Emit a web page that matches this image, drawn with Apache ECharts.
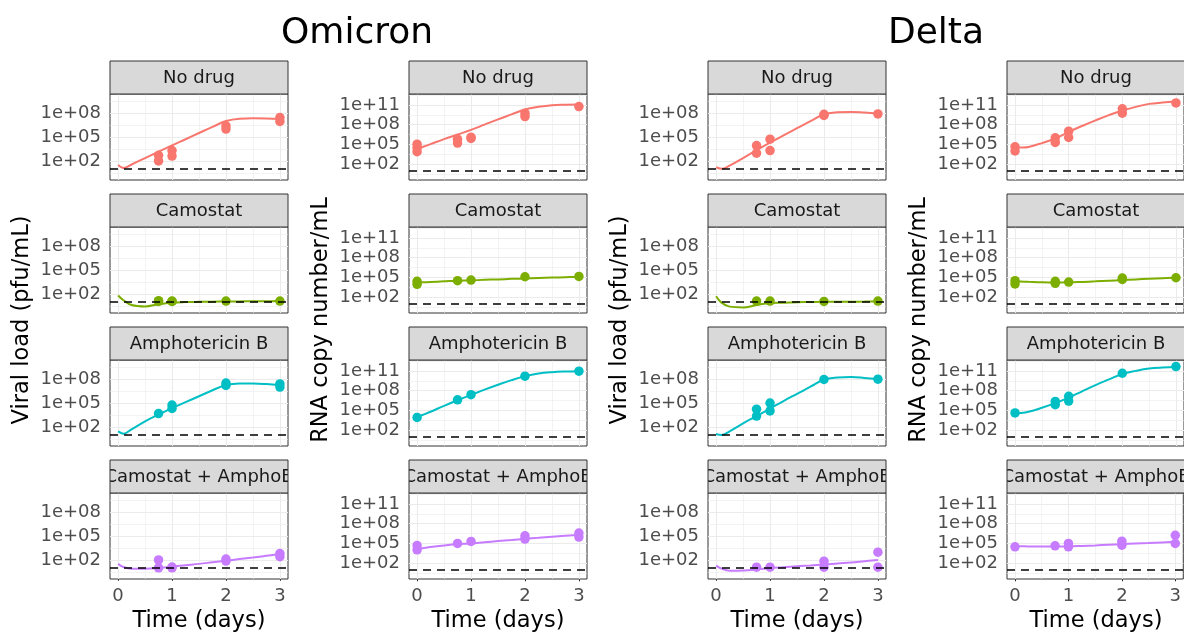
<!DOCTYPE html>
<html>
<head>
<meta charset="utf-8">
<script src="https://cdn.jsdelivr.net/npm/echarts@6/dist/echarts.min.js"></script>
<style>
html,body{margin:0;padding:0;background:#fff;}
#chart{width:1184px;height:632px;}
</style>
</head>
<body>
<div id="chart"></div>
<script>
// ---------------- DATA (values are log10 of the measured quantity) ----------------
const panelTitles = ['No drug', 'Camostat', 'Amphotericin B', 'Camostat + AmphoB'];
const variantTitles = ['Omicron', 'Delta'];
const yAxisTitles = ['Viral load (pfu/mL)', 'RNA copy number/mL'];
const xAxisTitle = 'Time (days)';
const xTickValues = [0, 1, 2, 3];
const pfuTickExps = [2, 5, 8];
const rnaTickExps = [2, 5, 8, 11];
const detectionLimitExp = 1;
const fitTimes = [0, 0.1, 0.25, 0.5, 0.75, 1, 1.25, 1.5, 1.75, 2, 2.25, 2.5, 2.75, 3];

// Omicron, viral load (pfu/mL)
const omiPfuNoDrugPts = [[0.75,2.7],[0.75,2.0],[1,3.3],[1,2.6],[2,6.4],[2,6.0],[3,7.45],[3,6.95]];
const omiPfuCamoPts = [[0.75,1.15],[0.75,1.05],[1,1.1],[1,1.05],[2,1.1],[3,1.1]];
const omiPfuAmphoPts = [[0.75,3.67],[1,4.74],[1,4.31],[2,7.5],[2,7.2],[3,7.4],[3,7.0]];
const omiPfuComboPts = [[0.75,2.0],[0.75,1.0],[1,1.0],[1,1.1],[2,2.1],[2,1.85],[3,2.8],[3,2.4]];
const omiPfuNoDrugFit = [1.5,1.1,1.55,2.35,3.15,3.95,4.72,5.5,6.27,7.0,7.3,7.35,7.32,7.25];
const omiPfuCamoFit = [1.8,1.2,0.6,0.42,0.7,0.9,0.97,1.0,1.02,1.04,1.05,1.07,1.08,1.1];
const omiPfuAmphoFit = [1.43,1.14,1.7,2.7,3.55,4.35,5.1,5.85,6.6,7.25,7.45,7.45,7.38,7.25];
const omiPfuComboFit = [1.5,1.1,0.9,0.9,1.0,1.15,1.33,1.5,1.7,1.9,2.1,2.3,2.52,2.75];

// Omicron, RNA copy number/mL
const omiRnaNoDrugPts = [[0,5.03],[0,4.5],[0,3.9],[0.75,5.8],[0.75,5.2],[1,6.1],[1,5.9],[2,9.74],[2,9.22],[3,10.75]];
const omiRnaCamoPts = [[0,4.4],[0,3.95],[0.75,4.5],[1,4.6],[2,5.1],[3,5.15]];
const omiRnaAmphoPts = [[0,3.94],[0.75,6.6],[1,7.38],[2,10.2],[3,10.96]];
const omiRnaComboPts = [[0,4.68],[0,4.03],[0.75,4.99],[1,5.3],[2,6.16],[2,5.66],[3,6.57],[3,5.96]];
const omiRnaNoDrugFit = [4.3,4.6,5.05,5.8,6.5,7.2,8.0,8.8,9.55,10.3,10.7,10.95,11.02,11.05];
const omiRnaCamoFit = [4.2,4.25,4.3,4.4,4.5,4.55,4.63,4.7,4.78,4.85,4.92,4.98,5.03,5.08];
const omiRnaAmphoFit = [3.95,4.3,4.8,5.7,6.55,7.35,8.15,8.9,9.6,10.2,10.6,10.8,10.9,10.95];
const omiRnaComboFit = [4.13,4.25,4.45,4.7,4.9,5.0,5.18,5.35,5.52,5.7,5.85,6.0,6.15,6.3];

// Delta, viral load (pfu/mL)
const delPfuNoDrugPts = [[0.75,3.93],[0.75,2.97],[1,4.73],[1,3.3],[2,7.7],[2,7.85],[3,7.9]];
const delPfuCamoPts = [[0.75,1.1],[1,1.1],[2,1.05],[3,1.1]];
const delPfuAmphoPts = [[0.75,4.22],[0.75,3.36],[1,5.0],[1,4.0],[2,7.95],[3,7.99]];
const delPfuComboPts = [[0.75,1.08],[1,1.08],[2,1.84],[2,1.08],[3,2.97],[3,1.08]];
const delPfuNoDrugFit = [1.2,1.0,1.4,2.35,3.35,4.3,5.2,6.1,7.0,7.85,8.1,8.15,8.07,7.95];
const delPfuCamoFit = [1.7,0.9,0.4,0.3,0.6,0.85,0.9,0.95,0.98,1.0,1.0,1.02,1.03,1.05];
const delPfuAmphoFit = [1.1,0.97,1.45,2.45,3.36,4.3,5.25,6.15,7.05,7.95,8.2,8.25,8.15,8.0];
const delPfuComboFit = [1.28,0.9,0.65,0.68,0.8,0.96,1.08,1.2,1.3,1.41,1.55,1.68,1.84,2.0];

// Delta, RNA copy number/mL
const delRnaNoDrugPts = [[0,4.64],[0,4.0],[0.75,6.0],[0.75,5.3],[1,7.0],[1,6.05],[2,10.4],[2,9.74],[3,11.3]];
const delRnaCamoPts = [[0,4.5],[0,4.0],[0.75,4.4],[0.75,4.1],[1,4.3],[2,4.9],[2,4.7],[3,4.95]];
const delRnaAmphoPts = [[0,4.62],[0.75,6.37],[0.75,5.86],[1,7.14],[1,6.41],[2,10.64],[3,11.66]];
const delRnaComboPts = [[0,4.49],[0.75,4.64],[1,5.0],[1,4.49],[2,5.34],[2,4.74],[3,6.24],[3,5.0]];
const delRnaNoDrugFit = [4.5,4.52,4.62,5.2,5.9,6.9,7.8,8.65,9.45,10.15,10.7,11.15,11.35,11.5];
const delRnaCamoFit = [4.4,4.38,4.33,4.25,4.22,4.25,4.32,4.4,4.5,4.6,4.7,4.8,4.88,4.95];
const delRnaAmphoFit = [4.56,4.6,4.8,5.4,6.1,6.93,7.9,8.84,9.7,10.53,11.0,11.35,11.5,11.57];
const delRnaComboFit = [4.6,4.58,4.55,4.52,4.52,4.55,4.62,4.7,4.8,4.9,4.98,5.05,5.15,5.24];

// ---------------- LAYOUT / STYLE ----------------
const FONT = '"DejaVu Sans", sans-serif';
const colors = ['#F8766D', '#7CAE00', '#00BFC4', '#C77CFF'];
const colLeft = [110, 409, 708, 1007];
const plotTop = [94, 227, 360, 493];
const PW = 178, PH = 86, SH = 33;

const columns = [
  { pts: [omiPfuNoDrugPts, omiPfuCamoPts, omiPfuAmphoPts, omiPfuComboPts],
    fit: [omiPfuNoDrugFit, omiPfuCamoFit, omiPfuAmphoFit, omiPfuComboFit],
    ymin: -0.4, ymax: 10.4, ticks: pfuTickExps },
  { pts: [omiRnaNoDrugPts, omiRnaCamoPts, omiRnaAmphoPts, omiRnaComboPts],
    fit: [omiRnaNoDrugFit, omiRnaCamoFit, omiRnaAmphoFit, omiRnaComboFit],
    ymin: -0.4, ymax: 12.65, ticks: rnaTickExps },
  { pts: [delPfuNoDrugPts, delPfuCamoPts, delPfuAmphoPts, delPfuComboPts],
    fit: [delPfuNoDrugFit, delPfuCamoFit, delPfuAmphoFit, delPfuComboFit],
    ymin: -0.4, ymax: 10.4, ticks: pfuTickExps },
  { pts: [delRnaNoDrugPts, delRnaCamoPts, delRnaAmphoPts, delRnaComboPts],
    fit: [delRnaNoDrugFit, delRnaCamoFit, delRnaAmphoFit, delRnaComboFit],
    ymin: -0.4, ymax: 12.65, ticks: rnaTickExps }
];

function expLabel(v) { return '1e+' + (v < 10 ? '0' : '') + v; }

function gridLineData(ticks, ymin, ymax) {
  const items = [];
  const xMinor = [];
  for (let i = 0; i < xTickValues.length - 1; i++) xMinor.push((xTickValues[i] + xTickValues[i + 1]) / 2);
  xTickValues.forEach(v => items.push({ xAxis: v, lineStyle: { color: '#EBEBEB', width: 1.1, type: 'solid' } }));
  xMinor.forEach(v => items.push({ xAxis: v, lineStyle: { color: '#EBEBEB', width: 0.6, type: 'solid' } }));
  const step = ticks[1] - ticks[0];
  const yMinor = [ticks[0] - step / 2];
  for (let i = 0; i < ticks.length; i++) yMinor.push(ticks[i] + step / 2);
  ticks.forEach(v => items.push({ yAxis: v, lineStyle: { color: '#EBEBEB', width: 1.1, type: 'solid' } }));
  yMinor.filter(v => v > ymin && v < ymax).forEach(v => items.push({ yAxis: v, lineStyle: { color: '#EBEBEB', width: 0.6, type: 'solid' } }));
  return items;
}

const grids = [], xAxes = [], yAxes = [], series = [], graphics = [];

columns.forEach((col, c) => {
  for (let r = 0; r < 4; r++) {
    const idx = c * 4 + r;
    grids.push({ left: colLeft[c], top: plotTop[r], width: PW, height: PH,
      show: true, borderColor: '#333333', borderWidth: 1, backgroundColor: '#ffffff' });
    const bottom = r === 3;
    xAxes.push({ gridIndex: idx, type: 'value', min: -0.15, max: 3.15,
      splitLine: { show: false }, axisLine: { show: false },
      axisTick: { show: bottom, customValues: xTickValues, length: 5, lineStyle: { color: '#333333', width: 1 } },
      axisLabel: { show: bottom, customValues: xTickValues, margin: 8, fontSize: 18, color: '#4D4D4D', fontFamily: FONT } });
    yAxes.push({ gridIndex: idx, type: 'value', min: col.ymin, max: col.ymax,
      splitLine: { show: false }, axisLine: { show: false },
      axisTick: { show: true, customValues: col.ticks, length: 5, lineStyle: { color: '#333333', width: 1 } },
      axisLabel: { customValues: col.ticks, margin: 9, fontSize: 18, color: '#4D4D4D', fontFamily: FONT,
        formatter: v => expLabel(v) } });

    const fitData = fitTimes.map((t, i) => [t, col.fit[r][i]]);
    // background grid lines
    series.push({ type: 'scatter', xAxisIndex: idx, yAxisIndex: idx, data: fitData, symbolSize: 0,
      itemStyle: { opacity: 0 }, silent: true, z: 1, animation: false,
      markLine: { silent: true, z: 1, symbol: ['none', 'none'], label: { show: false }, animation: false,
        emphasis: { disabled: true }, data: gridLineData(col.ticks, col.ymin, col.ymax) } });
    // fitted curve
    series.push({ type: 'line', xAxisIndex: idx, yAxisIndex: idx, data: fitData, showSymbol: false, symbol: 'none',
      smooth: 0.4, lineStyle: { color: colors[r], width: 2 }, z: 3, silent: true, animation: false });
    // observations
    series.push({ type: 'scatter', xAxisIndex: idx, yAxisIndex: idx, data: col.pts[r], symbolSize: 9.5,
      itemStyle: { color: colors[r], opacity: 1 }, z: 4, silent: true, animation: false });
    // detection limit
    series.push({ type: 'scatter', xAxisIndex: idx, yAxisIndex: idx, data: fitData, symbolSize: 0,
      itemStyle: { opacity: 0 }, silent: true, z: 5, animation: false,
      markLine: { silent: true, z: 5, symbol: ['none', 'none'], label: { show: false }, animation: false,
        emphasis: { disabled: true },
        data: [{ yAxis: detectionLimitExp, lineStyle: { color: '#000000', width: 1.7, type: [8, 6] } }] } });

    // strip
    const sx = colLeft[c], sy = plotTop[r] - SH;
    graphics.push({ type: 'rect', shape: { x: sx, y: sy, width: PW, height: SH },
      style: { fill: '#D9D9D9', stroke: 'none' }, z: 10, silent: true });
    graphics.push({ type: 'text', x: sx + PW / 2, y: sy + SH / 2 + 1,
      style: { text: panelTitles[r], font: '18px ' + FONT, fill: '#1A1A1A', align: 'center', verticalAlign: 'middle' },
      z: 11, silent: true });
    graphics.push({ type: 'rect', shape: { x: sx - 16, y: sy, width: 16, height: SH },
      style: { fill: '#ffffff' }, z: 12, silent: true });
    graphics.push({ type: 'rect', shape: { x: sx + PW, y: sy, width: 16, height: SH },
      style: { fill: '#ffffff' }, z: 12, silent: true });
    graphics.push({ type: 'rect', shape: { x: sx, y: sy, width: PW, height: SH },
      style: { fill: 'none', stroke: '#333333', lineWidth: 1 }, z: 13, silent: true });
  }
  // axis titles
  graphics.push({ type: 'text', x: colLeft[c] - 88, y: 320, rotation: Math.PI / 2,
    style: { text: yAxisTitles[c % 2], font: '22.5px ' + FONT, fill: '#000000', align: 'center', verticalAlign: 'middle' },
    z: 14, silent: true });
  graphics.push({ type: 'text', x: colLeft[c] + PW / 2, y: 621,
    style: { text: xAxisTitle, font: '22.5px ' + FONT, fill: '#000000', align: 'center', verticalAlign: 'middle' },
    z: 14, silent: true });
});

// variant titles
graphics.push({ type: 'text', x: 357, y: 34,
  style: { text: variantTitles[0], font: '36px ' + FONT, fill: '#000000', align: 'center', verticalAlign: 'middle' }, z: 14 });
graphics.push({ type: 'text', x: 936, y: 34,
  style: { text: variantTitles[1], font: '36px ' + FONT, fill: '#000000', align: 'center', verticalAlign: 'middle' }, z: 14 });

const chart = echarts.init(document.getElementById('chart'), null, { renderer: 'canvas' });
chart.setOption({
  animation: false,
  backgroundColor: '#ffffff',
  grid: grids,
  xAxis: xAxes,
  yAxis: yAxes,
  series: series,
  graphic: { elements: graphics }
});
</script>
</body>
</html>
